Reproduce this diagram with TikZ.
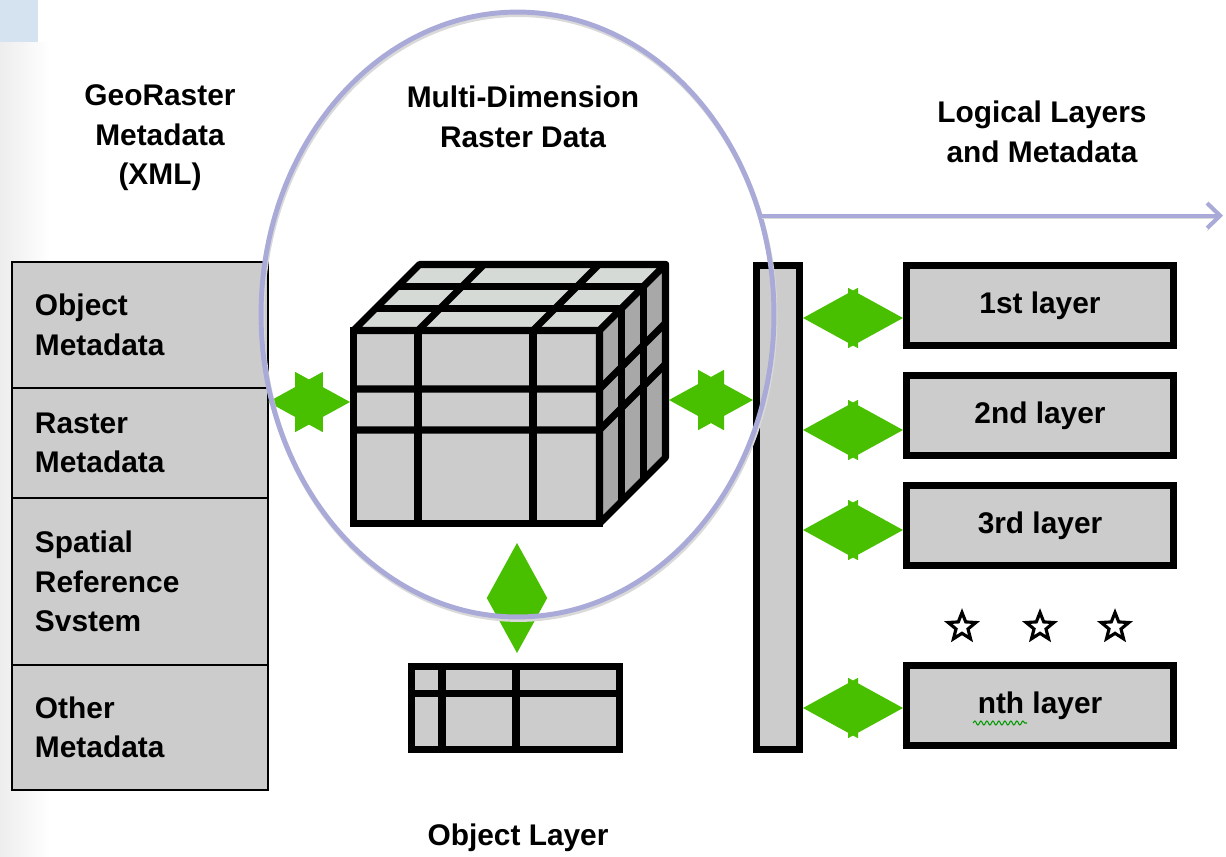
\documentclass[tikz,border=0pt]{standalone}
\usepackage{fontspec}
\setmainfont{Liberation Sans}
\usepackage{tikz}
\usetikzlibrary{positioning,arrows.meta,shapes.geometric,decorations.pathmorphing}

\definecolor{ovalblue}{HTML}{AAAAD8}
\definecolor{arrowgreen}{HTML}{48C000}
\definecolor{boxgray}{HTML}{CCCCCC}
\definecolor{topgray}{HTML}{D6DAD6}
\definecolor{sidegray}{HTML}{A8A8A8}
\definecolor{slideblue}{HTML}{D5E3F1}

\begin{document}
\begin{tikzpicture}[x=0.02cm, y=-0.02cm, font=\fontsize{17}{22.5}\selectfont\bfseries, node distance=0.46cm]
    \tikzstyle{meta}=[draw=black, line width=1.2pt, fill=boxgray, outer sep=0pt,
                      text width=4.2cm, inner xsep=0.46cm, align=left]
    \tikzstyle{layer}=[draw=black, line width=4pt, fill=boxgray,
                       minimum width=5.34cm, minimum height=1.6cm]
    \tikzstyle{cubeline}=[draw=black, line width=4pt, line join=round]
    \tikzstyle{dblarrow}=[draw=arrowgreen, fill=arrowgreen, line width=1pt,
                          {Triangle[length=1.1cm,width=1.2cm]}-{Triangle[length=1.1cm,width=1.2cm]}]
    \tikzstyle{oval}=[ellipse, line width=2.8pt, minimum width=10.26cm,
                      minimum height=12.1cm, inner sep=0pt]
    \tikzstyle{starmark}=[star, star points=5, star point ratio=2.3, draw=black,
                          fill=white, line width=1.8pt, minimum size=0.58cm, inner sep=0pt]

    \useasboundingbox (0,0) rectangle (1226,856);
    \fill[slideblue] (0,0) rectangle (38,42);
    \shade[left color=black!7, right color=white] (0,42) rectangle (50,856);

    % titles
    \node[align=center] (georaster) at (160,138) {GeoRaster\\Metadata\\(XML)};
    \node[align=center] (mdrtitle) at (523,117) {Multi-Dimension\\Raster Data};
    \node[align=center] (logtitle) at (1042,132) {Logical Layers\\and Metadata};
    \node (objtitle) at (518,838) {Object Layer};

    % metadata stack
    \node[meta, minimum height=2.52cm, anchor=north west] (objmeta) at (12,262) {Object\\Metadata};
    \node[meta, minimum height=2.2cm, below=0pt of objmeta] (rastmeta) {Raster\\Metadata};
    \node[meta, minimum height=3.34cm, below=0pt of rastmeta] (srsmeta) {Spatial\\Reference\\Svstem};
    \node[meta, minimum height=2.5cm, below=0pt of srsmeta] (othermeta) {Other\\Metadata};

    % raster cube
    \node[layer, minimum width=4.92cm, minimum height=3.86cm] (front) at (476.5,427) {};
    \filldraw[cubeline, fill=topgray] (353.5,330.5) -- (419.5,264.5) -- (665.5,264.5) -- (599.5,330.5) -- cycle;
    \filldraw[cubeline, fill=sidegray] (599.5,330.5) -- (665.5,264.5) -- (665.5,457.5) -- (599.5,523.5) -- cycle;
    \foreach \x in {418,533} {
        \draw[cubeline] (\x,330.5) -- (\x,523.5);
        \draw[cubeline] (\x,330.5) -- ++(66,-66);
    }
    \foreach \y in {389,430}
        \draw[cubeline] (353.5,\y) -- (599.5,\y) -- ++(66,-66);
    \foreach \d in {22,44}
        \draw[cubeline] (353.5+\d,330.5-\d) -- (599.5+\d,330.5-\d) -- (599.5+\d,523.5-\d);
    \coordinate (cubeback) at (669,400);

    % object layer table
    \node[layer, minimum width=4.16cm, minimum height=1.66cm] (objtable) at (515.5,708) {};
    \draw[cubeline] (442,666.5) -- (442,749.5);
    \draw[cubeline] (516,666.5) -- (516,749.5);
    \draw[cubeline] (411.5,693) -- (619.5,693);

    % logical layers
    \node[layer, minimum width=0.86cm, minimum height=9.68cm] (bar) at (778,507.5) {};
    \node[layer] (lay1) at (1040,305.5) {1st layer};
    \node[layer, below=of lay1] (lay2) {2nd layer};
    \node[layer, below=of lay2] (lay3) {3rd layer};
    \node[layer, below=1.86cm of lay3] (layn) {nth layer};
    \draw[green!60!black, line width=0.6pt, decorate,
          decoration={snake, amplitude=0.04cm, segment length=0.12cm}] (973,723) -- (1027,723);
    \node[starmark] (dot1) at (962,627) {};
    \node[starmark] (dot2) at (1040,627) {};
    \node[starmark] (dot3) at (1115,627) {};

    % links
    \draw[dblarrow] (rastmeta.east |- 0,402) -- (front.west |- 0,402);
    \draw[dblarrow] (cubeback) -- (cubeback -| bar.west);
    \draw[dblarrow, shorten <=0.32cm, shorten >=0.2cm] (front.south -| 517,0) -- (objtable.north -| 517,0);
    \draw[dblarrow] (bar.east |- 0,318) -- (lay1.west |- 0,318);
    \draw[dblarrow] (bar.east |- 0,430) -- (lay2.west |- 0,430);
    \draw[dblarrow] (bar.east |- 0,530) -- (lay3.west |- 0,530);
    \draw[dblarrow] (bar.east |- 0,708) -- (layn.west |- 0,708);

    % highlight
    \node[oval, draw=black!15] (mdrshade) at (518.5,317) {};
    \node[oval, draw=ovalblue] (mdr) at (517.5,314.5) {};
    \coordinate (outtip) at (1223,216);
    \draw[draw=ovalblue, line width=2.3pt, {-Straight Barb[length=0.26cm,width=0.5cm]},
          preaction={draw=black!15, transform canvas={yshift=-1.5pt}}] (mdr.22) -- (mdr.22 -| outtip);
\end{tikzpicture}
\end{document}
